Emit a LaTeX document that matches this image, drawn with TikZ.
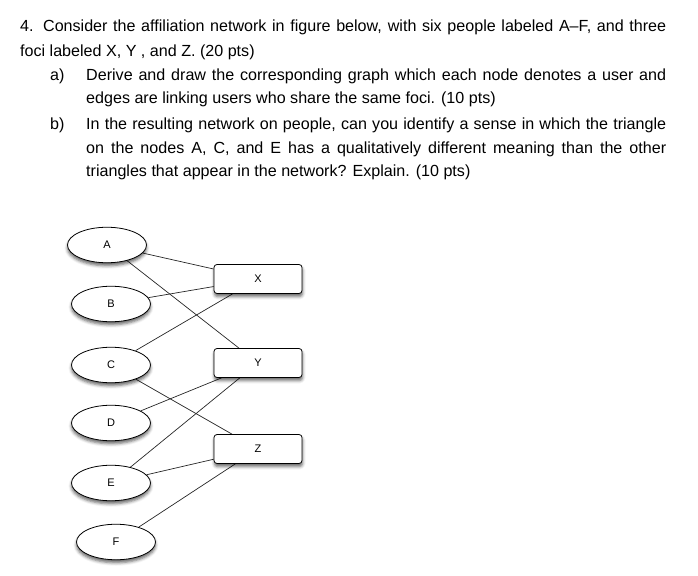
\documentclass[tikz,border=0pt]{standalone}
\usepackage{fontspec}
\setmainfont{Liberation Sans}
\usetikzlibrary{shapes.geometric,shadows.blur,backgrounds}
\tikzset{
  txt/.style={anchor=base west, inner sep=0pt, font=\fontsize{16.1}{19}\selectfont},
  person/.style={ellipse, draw=black, line width=0.8pt, fill=white, minimum width=79pt, minimum height=35.5pt, inner sep=0pt, font=\fontsize{11}{13}\selectfont,
    blur shadow={shadow xshift=0pt, shadow yshift=-3pt, shadow blur radius=3pt, shadow opacity=60}},
  focus/.style={rectangle, rounded corners=3pt, draw=black, line width=0.8pt, fill=white, minimum width=88pt, minimum height=29pt, inner sep=0pt, font=\fontsize{11}{13}\selectfont,
    blur shadow={shadow xshift=0.5pt, shadow yshift=-3pt, shadow blur radius=3pt, shadow opacity=60}},
  link/.style={draw=black!85, line width=0.7pt}
}
\begin{document}
\begin{tikzpicture}[x=1pt,y=-1pt]
\useasboundingbox (0,0) rectangle (698,575);
% text
\node[txt] (l1) at (20,32) {\makebox[646pt][s]{4. Consider the affiliation network in figure below, with six people labeled A–F, and three}};
\node[txt] (l2) at (20,56.5) {foci labeled X, Y , and Z. (20 pts)};
\node[txt] (la) at (50,80.5) {a)};
\node[txt] (la1) at (86,80.5) {\makebox[580pt][s]{Derive and draw the corresponding graph which each node denotes a user and}};
\node[txt] (la2) at (86,104) {edges are linking users who share the same foci. (10 pts)};
\node[txt] (lb) at (50,129.5) {b)};
\node[txt] (lb1) at (86,129.5) {\makebox[580pt][s]{In the resulting network on people, can you identify a sense in which the triangle}};
\node[txt] (lb2) at (86,153) {\makebox[580pt][s]{on the nodes A, C, and E has a qualitatively different meaning than the other}};
\node[txt] (lb3) at (86,176.5) {triangles that appear in the network? Explain. (10 pts)};
% nodes
\node[person] (A) at (107,245) {A};
\node[person] (B) at (111,304) {B};
\node[person] (C) at (111,365) {C};
\node[person] (D) at (111,423) {D};
\node[person] (E) at (111,483) {E};
\node[person] (F) at (116,542) {F};
\node[focus] (X) at (258,279) {X};
\node[focus] (Y) at (258,363) {Y};
\node[focus] (Z) at (258,449) {Z};
% edges
\begin{scope}[on background layer]
\draw[link] (A) -- (X);
\draw[link] (A) -- (Y);
\draw[link] (B) -- (X);
\draw[link] (C) -- (X);
\draw[link] (C) -- (Z);
\draw[link] (D) -- (Y);
\draw[link] (E) -- (Y);
\draw[link] (E) -- (Z);
\draw[link] (F) -- (Z);
\end{scope}
\end{tikzpicture}
\end{document}
